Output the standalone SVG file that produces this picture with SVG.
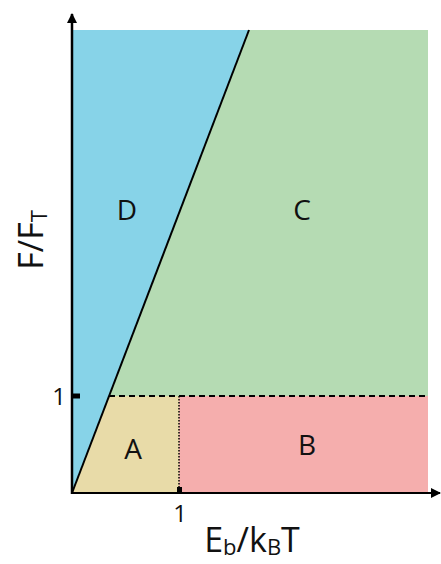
<svg xmlns="http://www.w3.org/2000/svg" width="441" height="564" viewBox="0 0 441 564">
<style>
.lbl{font-family:"Open Sans","Liberation Sans",sans-serif;font-size:28px;fill:#111;text-anchor:middle}
.tick{font-family:"Open Sans","Liberation Sans",sans-serif;font-size:24px;fill:#111;text-anchor:middle}
.ax{font-family:"Open Sans","Liberation Sans",sans-serif;font-size:34px;fill:#111}
.sub{font-size:22px}
</style>
<defs>
<marker id="arr" viewBox="0 0 10 10" refX="9" refY="5" markerWidth="10" markerHeight="10" markerUnits="userSpaceOnUse" orient="auto">
<path d="M0,0 L10,5 L0,10 Z" fill="#000"/>
</marker>
</defs>
<g id="regionD"><polygon points="72,30 249,30 72,493" fill="#87D3E8"/><text class="lbl" x="127" y="220">D</text></g>
<g id="regionC"><polygon points="249,30 428,30 428,396 109,396" fill="#B5DBB3"/><text class="lbl" x="302" y="220">C</text></g>
<g id="regionA"><polygon points="109,396 179,396 179,493 72,493" fill="#E8DBA8"/><text class="lbl" x="133" y="459">A</text></g>
<g id="regionB"><rect x="179" y="396" width="249" height="97" fill="#F5AEAD"/><text class="lbl" x="307" y="455">B</text></g>
<g id="connectors">
<line x1="72" y1="493" x2="249" y2="30" stroke="#000" stroke-width="2"/>
<line x1="109" y1="396" x2="428" y2="396" stroke="#000" stroke-width="1.8" stroke-dasharray="6,4"/>
<line x1="179" y1="396" x2="179" y2="493" stroke="#000" stroke-width="1.5" stroke-dasharray="1.5,1.5"/>
<line x1="72" y1="494" x2="72" y2="14" stroke="#000" stroke-width="2.5" marker-end="url(#arr)"/>
<line x1="71" y1="493" x2="440" y2="493" stroke="#000" stroke-width="2" marker-end="url(#arr)"/>
<rect x="72" y="393.5" width="8" height="5" fill="#000"/>
<rect x="177" y="487" width="5" height="6" fill="#000"/>
</g>
<g id="axes-labels">
<text class="tick" x="59" y="405">1</text>
<text class="tick" x="180" y="522">1</text>
<text class="ax" x="252" y="552" text-anchor="middle">E<tspan class="sub" dy="3">b</tspan><tspan dy="-3">/k</tspan><tspan class="sub" dy="3">B</tspan><tspan dy="-3">T</tspan></text>
<text class="ax" transform="translate(43,240) rotate(-90)" text-anchor="middle">F/F<tspan class="sub" dy="4">T</tspan></text>
</g>
</svg>
